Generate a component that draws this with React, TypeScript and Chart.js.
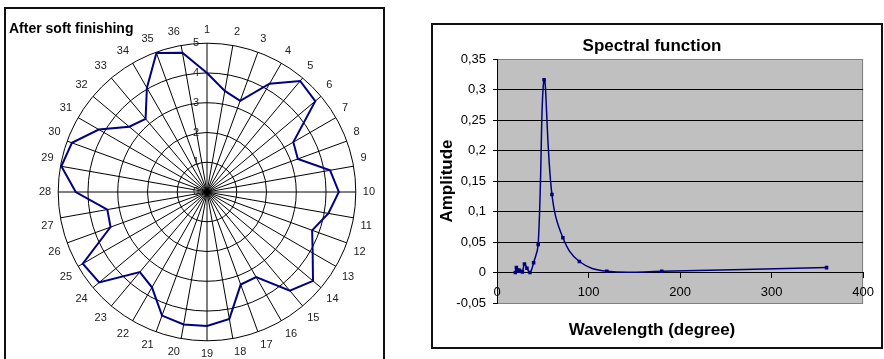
import React, { useEffect, useRef } from 'react';
import { Chart, registerables } from 'chart.js';

Chart.register(...registerables);

const FONT = "'Liberation Sans', Arial, Helvetica, sans-serif";

// ---------- Left chart: radar ----------
const radarTitle = 'After soft finishing';
const radarCategories = [
  '1', '2', '3', '4', '5', '6', '7', '8', '9', '10', '11', '12',
  '13', '14', '15', '16', '17', '18', '19', '20', '21', '22', '23', '24',
  '25', '26', '27', '28', '29', '30', '31', '32', '33', '34', '35', '36',
];
const radarValues = [
  4.0, 3.45, 3.26, 4.2, 4.87, 4.75, 3.35, 3.25, 4.2, 4.43, 4.14, 3.76,
  4.1, 4.65, 4.33, 3.3, 3.31, 4.33, 4.5, 4.52, 4.42, 3.7, 3.51, 4.73,
  4.82, 3.45, 3.4, 4.41, 4.97, 4.83, 4.2, 3.41, 3.21, 4.04, 4.97, 4.75,
];
const radarRingTicks = [0, 1, 2, 3, 4, 5];

// ---------- Right chart: spectral function ----------
const spectralTitle = 'Spectral function';
const spectralXTitle = 'Wavelength (degree)';
const spectralYTitle = 'Amplitude';
const wavelengths = [20, 21.2, 22.5, 24, 25.7, 27.7, 30, 32.7, 36, 40, 45, 51.4, 60, 72, 90, 120, 180, 360];
const amplitudes = [0, 0.008, 0.003, 0.004, 0.002, 0.001, 0.014, 0.007, 0.0, 0.016, 0.046, 0.316, 0.128, 0.057, 0.018, 0.002, 0.002, 0.008];
const xAxisTicks = [0, 100, 200, 300, 400];
const yAxisTicks = [-0.05, 0, 0.05, 0.1, 0.15, 0.2, 0.25, 0.3, 0.35];

const fmtComma = (v: number) => String(Math.round(Number(v) * 100) / 100).replace('.', ',');

const ringLabelPlugin = {
  id: 'ringLabels',
  beforeDatasetsDraw(chart: any) {
    const s = chart.scales.r;
    const ctx = chart.ctx;
    ctx.save();
    ctx.font = `11px ${FONT}`;
    ctx.fillStyle = '#222';
    ctx.textAlign = 'right';
    ctx.textBaseline = 'middle';
    radarRingTicks.forEach((v) => {
      const d = s.getDistanceFromCenterForValue(v);
      ctx.fillText(String(v), s.xCenter - 8, s.yCenter - d);
    });
    ctx.restore();
  },
};

const cornerTitlePlugin = {
  id: 'cornerTitle',
  afterDraw(chart: any) {
    const ctx = chart.ctx;
    ctx.save();
    ctx.font = `bold 14px ${FONT}`;
    ctx.fillStyle = '#000';
    ctx.textAlign = 'left';
    ctx.textBaseline = 'alphabetic';
    ctx.fillText(radarTitle, 3, 23.7);
    ctx.restore();
  },
};

const plotBgPlugin = {
  id: 'plotBg',
  beforeDraw(chart: any) {
    const { ctx, chartArea: a } = chart;
    ctx.save();
    ctx.fillStyle = '#c0c0c0';
    ctx.fillRect(a.left, a.top, a.right - a.left, a.bottom - a.top);
    ctx.strokeStyle = '#808080';
    ctx.lineWidth = 1;
    ctx.strokeRect(Math.round(a.left) + 0.5, Math.round(a.top) + 0.5, Math.round(a.right - a.left) - 1, Math.round(a.bottom - a.top));
    ctx.restore();
  },
};

function RadarChart() {
  const ref = useRef<HTMLCanvasElement>(null);
  useEffect(() => {
    const chart = new Chart(ref.current as HTMLCanvasElement, {
      type: 'radar',
      data: {
        labels: radarCategories,
        datasets: [
          {
            data: radarValues,
            borderColor: '#000080',
            backgroundColor: 'rgba(0,0,0,0)',
            borderWidth: 2,
            pointRadius: 0,
            pointHoverRadius: 0,
            fill: false,
            tension: 0,
          },
        ],
      },
      options: {
        responsive: false,
        animation: false,
        layout: { padding: { left: 32, top: 14, right: 7, bottom: 0 } },
        plugins: { legend: { display: false }, tooltip: { enabled: false } },
        scales: {
          r: {
            min: radarRingTicks[0],
            max: radarRingTicks[radarRingTicks.length - 1],
            startAngle: 0,
            ticks: { display: false, stepSize: 1 },
            grid: { circular: true, color: '#000', lineWidth: 1 },
            angleLines: { display: true, color: '#000', lineWidth: 1 },
            pointLabels: { display: true, padding: 7, color: '#222', font: { family: FONT, size: 11 } },
          },
        },
      } as any,
      plugins: [ringLabelPlugin, cornerTitlePlugin],
    });
    return () => chart.destroy();
  }, []);
  return (
    <canvas
      ref={ref}
      width={377}
      height={352}
      style={{ position: 'absolute', left: 6, top: 9, width: 377, height: 352 }}
    />
  );
}

function SpectralChart() {
  const ref = useRef<HTMLCanvasElement>(null);
  useEffect(() => {
    const points = wavelengths.map((x, i) => ({ x, y: amplitudes[i] }));
    const isEdge = (v: number) =>
      Math.abs(v - yAxisTicks[0]) < 1e-9 || Math.abs(v - yAxisTicks[yAxisTicks.length - 1]) < 1e-9;
    const chart = new Chart(ref.current as HTMLCanvasElement, {
      type: 'scatter',
      data: {
        datasets: [
          {
            data: points,
            showLine: true,
            borderColor: '#000080',
            backgroundColor: '#000080',
            borderWidth: 1.5,
            tension: 0.4,
            pointStyle: 'rect',
            pointRadius: 2.5,
            pointBorderWidth: 0,
            pointBackgroundColor: '#000080',
          },
        ],
      },
      options: {
        responsive: false,
        animation: false,
        layout: { padding: { left: 0, right: 10, top: 0, bottom: 0 } },
        plugins: {
          legend: { display: false },
          tooltip: { enabled: false },
          title: {
            display: true,
            text: spectralTitle,
            color: '#000',
            font: { family: FONT, size: 17, weight: 'bold' },
            padding: { top: 11.2, bottom: 2.4 },
          },
          subtitle: {
            display: true,
            position: 'bottom',
            text: spectralXTitle,
            color: '#000',
            font: { family: FONT, size: 17, weight: 'bold' },
            padding: { top: 16.9, bottom: 6.7 },
          },
        },
        scales: {
          x: {
            type: 'linear',
            position: { y: 0 },
            min: xAxisTicks[0],
            max: xAxisTicks[xAxisTicks.length - 1],
            ticks: { stepSize: xAxisTicks[1] - xAxisTicks[0], padding: 7, color: '#000', font: { family: FONT, size: 13 } },
            grid: { display: true, drawOnChartArea: false, drawTicks: true, tickLength: 5, color: '#000' },
            border: { display: true, color: '#000', width: 1 },
          },
          y: {
            type: 'linear',
            min: yAxisTicks[0],
            max: yAxisTicks[yAxisTicks.length - 1],
            ticks: {
              stepSize: 0.05,
              padding: 7,
              color: '#000',
              font: { family: FONT, size: 13 },
              callback: (v: any) => fmtComma(v),
            },
            grid: {
              color: (c: any) => (c.tick && isEdge(c.tick.value) ? '#808080' : '#000'),
              tickColor: '#000',
              tickLength: 4,
              lineWidth: 1,
            },
            border: { display: true, color: '#000', width: 1 },
            title: {
              display: true,
              text: spectralYTitle,
              color: '#000',
              font: { family: FONT, size: 17, weight: 'bold' },
              padding: { top: 4, bottom: 0 },
            },
            afterFit: (s: any) => {
              s.width = 64;
            },
          },
        },
      } as any,
      plugins: [plotBgPlugin],
    });
    return () => chart.destroy();
  }, []);
  return (
    <canvas
      ref={ref}
      width={448}
      height={322}
      style={{ position: 'absolute', left: 433, top: 25, width: 448, height: 322 }}
    />
  );
}

export default function App() {
  return (
    <div
      style={{
        position: 'absolute',
        left: 0,
        top: 0,
        width: 884,
        height: 359,
        overflow: 'hidden',
        background: '#fff',
      }}
    >
      <div
        style={{
          position: 'absolute',
          left: 4,
          top: 7,
          width: 381,
          height: 370,
          border: '2px solid #111',
          boxSizing: 'border-box',
        }}
      />
      <RadarChart />
      <div
        style={{
          position: 'absolute',
          left: 431,
          top: 23,
          width: 452,
          height: 326,
          border: '2px solid #111',
          boxSizing: 'border-box',
        }}
      />
      <SpectralChart />
    </div>
  );
}
